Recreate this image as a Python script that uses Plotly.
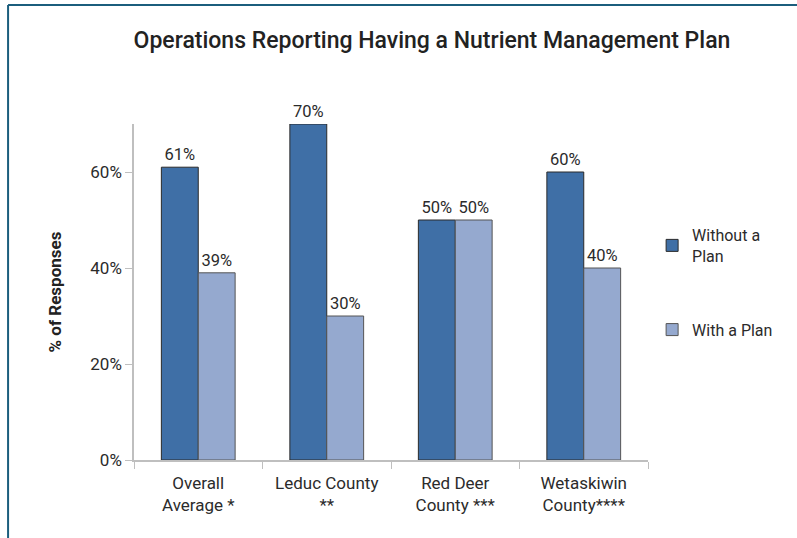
import plotly.graph_objects as go

# data
categories = ["Overall<br>Average *", "Leduc County<br>**", "Red Deer<br>County ***", "Wetaskiwin<br>County****"]
without_plan = [61, 70, 50, 60]
with_plan = [39, 30, 50, 40]
series_names = ["Without a<br>Plan", "With a Plan"]

dark = "#3F6FA6"
light = "#95A9CF"
txt = "#2b2b2b"
axis_grey = "#BFBFBF"

fig = go.Figure()
fig.add_trace(go.Bar(
    x=categories, y=without_plan, name=series_names[0],
    marker=dict(color=dark, line=dict(color="#2a2a2a", width=1)),
    text=[f"{v}%" for v in without_plan], textposition="outside",
    textfont=dict(size=16.5, color=txt), cliponaxis=False,
    legendgroup="a",
))
fig.add_trace(go.Bar(
    x=categories, y=with_plan, name=series_names[1],
    marker=dict(color=light, line=dict(color="#555555", width=1)),
    text=[f"{v}%" for v in with_plan], textposition="outside",
    textfont=dict(size=16.5, color=txt), cliponaxis=False,
    legendgroup="b",
))

fig.update_xaxes(
    showline=True, linecolor=axis_grey, linewidth=1.5,
    ticks="outside", tickson="boundaries", ticklen=7, tickcolor=axis_grey,
    tickfont=dict(size=17, color=txt), ticklabelstandoff=7,
)
fig.update_yaxes(
    range=[0, 70], dtick=20, ticksuffix="%",
    showline=True, linecolor=axis_grey, linewidth=1.5,
    ticks="outside", ticklen=7, tickcolor=axis_grey,
    showgrid=False, zeroline=False,
    tickfont=dict(size=17, color=txt),
    title=dict(text="<b>% of Responses</b>", font=dict(size=17, color="#222"), standoff=24),
)

# frame lines at top and left of the page
frame = "#1B5E7D"
fig.add_shape(type="line", xref="paper", yref="paper", x0=-0.245, x1=1.35, y0=1.354, y1=1.354,
              line=dict(color=frame, width=2))
fig.add_shape(type="line", xref="paper", yref="paper", x0=-0.245, x1=-0.245, y0=1.354, y1=-0.25,
              line=dict(color=frame, width=2))

fig.update_layout(
    width=797, height=538,
    margin=dict(l=134, r=149, t=124, b=78),
    paper_bgcolor="white", plot_bgcolor="white",
    font=dict(family="Roboto", color=txt),
    title=dict(text="Operations Reporting Having a Nutrient Management Plan",
               x=0.542, xanchor="center", y=0.925, yanchor="middle",
               font=dict(size=23, color="#222", family="Roboto", weight=500)),
    barmode="group", bargap=0.426, bargroupgap=0,
    legend=dict(x=1.008, y=0.72, xanchor="left", yanchor="top",
                font=dict(size=16, color=txt), tracegroupgap=50,
                itemwidth=30, bgcolor="rgba(0,0,0,0)"),
    showlegend=True,
)

fig.write_html("out.html", config={"displayModeBar": False},
               post_script="document.body.style.margin='0';")
